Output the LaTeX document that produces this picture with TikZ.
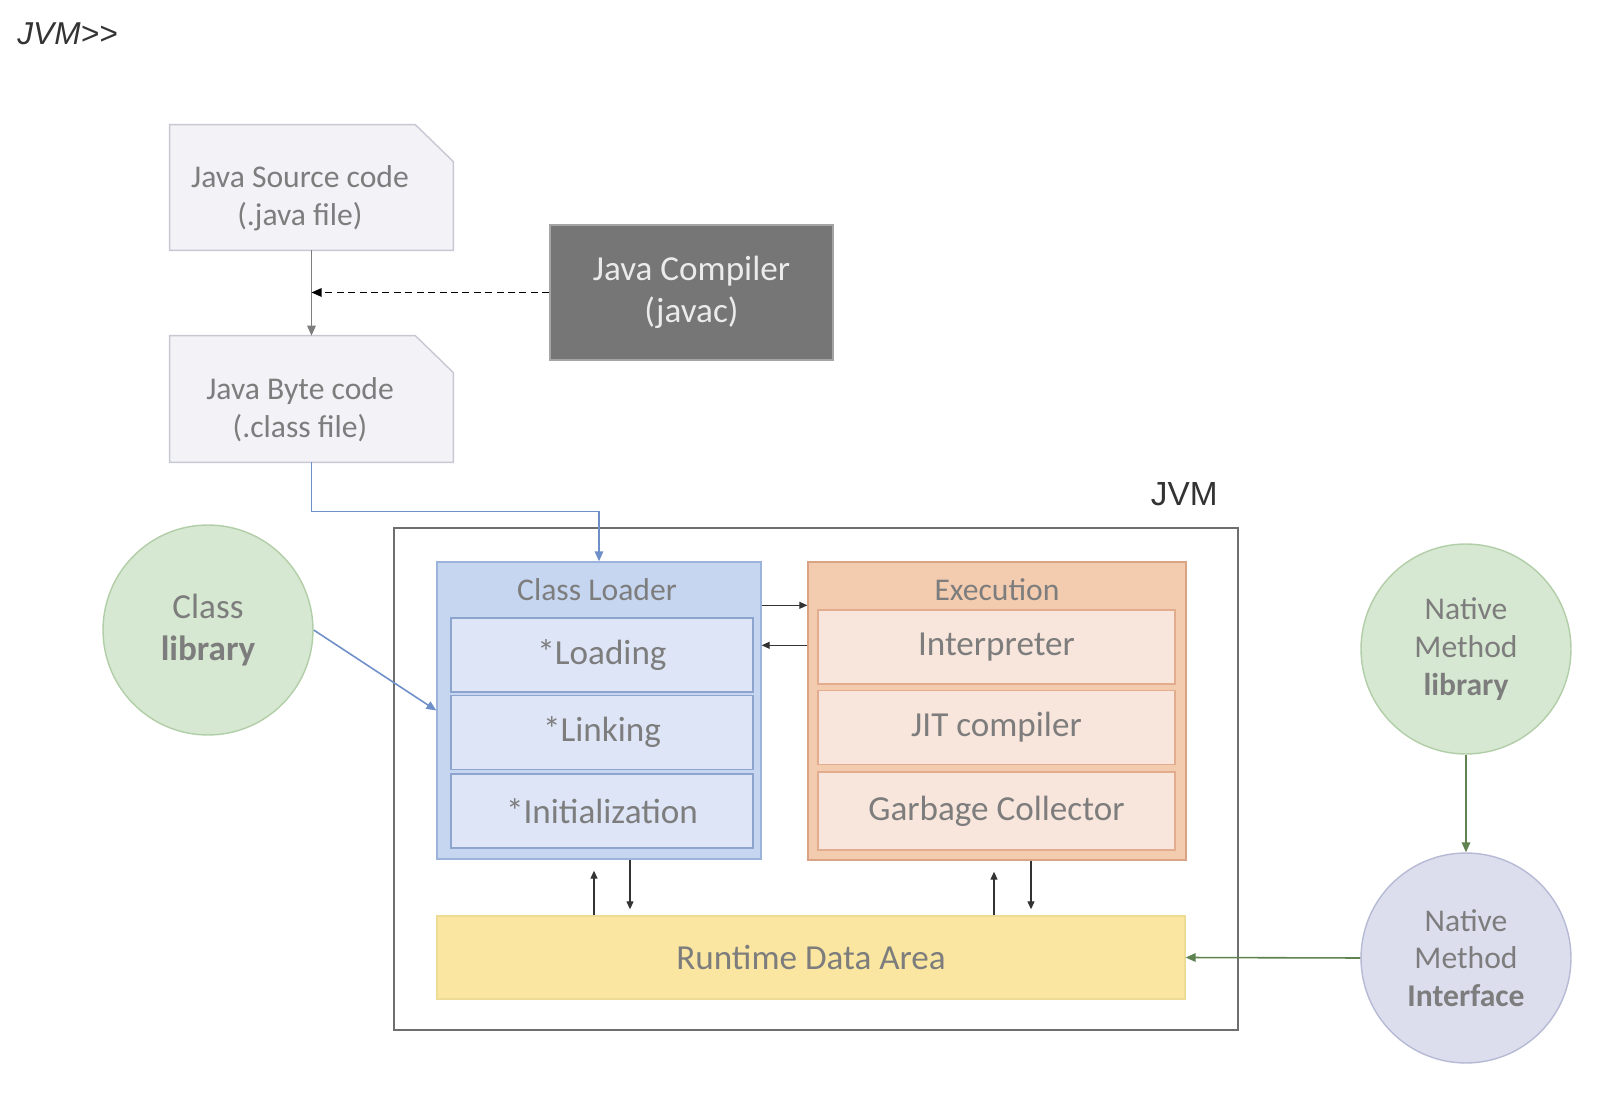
\documentclass[tikz,border=0pt]{standalone}
\usepackage{fontspec}
\setmainfont{Carlito}
\newfontfamily\arialfont{Liberation Sans}
\usetikzlibrary{arrows.meta,calc,positioning,backgrounds}

\definecolor{docfill}{RGB}{242,242,247}
\definecolor{docline}{RGB}{200,200,212}
\definecolor{txtgray}{RGB}{125,125,125}
\definecolor{compfill}{RGB}{118,118,118}
\definecolor{compline}{RGB}{165,165,165}
\definecolor{clfill}{RGB}{198,214,240}
\definecolor{clline}{RGB}{156,180,220}
\definecolor{clinfill}{RGB}{221,229,247}
\definecolor{clinline}{RGB}{140,164,206}
\definecolor{exfill}{RGB}{243,204,176}
\definecolor{exline}{RGB}{218,164,132}
\definecolor{exinfill}{RGB}{248,229,219}
\definecolor{exinline}{RGB}{226,172,142}
\definecolor{rdafill}{RGB}{250,230,160}
\definecolor{rdaline}{RGB}{236,220,150}
\definecolor{libfill}{RGB}{214,232,209}
\definecolor{libline}{RGB}{178,206,168}
\definecolor{nmifill}{RGB}{220,222,238}
\definecolor{nmiline}{RGB}{182,186,212}
\definecolor{flowblue}{RGB}{110,143,200}
\definecolor{flowgreen}{RGB}{94,130,80}
\definecolor{framegray}{RGB}{110,110,110}

% sheet with a cut top right corner, drawn behind a node
\newcommand{\foldsheet}[1]{%
  \filldraw[fill=docfill,draw=docline,line width=0.8pt]
    (#1.south west) -- (#1.north west) -- ([xshift=-0.76cm]#1.north east)
    -- ([yshift=-0.74cm]#1.north east) -- (#1.south east) -- cycle;}

\begin{document}
\begin{tikzpicture}[
  x=0.02cm, y=-0.02cm,
  >={Triangle[length=2mm,width=1.7mm]},
  doc/.style={minimum width=5.66cm,inner sep=0pt},
  doctext/.style={inner sep=0pt,align=center,xshift=-0.23cm,yshift=-0.22cm,
    text=txtgray,font=\fontsize{18}{21.5}\selectfont},
  title/.style={text=txtgray,inner sep=0pt,font=\fontsize{18}{22}\selectfont},
  stage/.style={draw,line width=0.8pt,minimum height=1.48cm,inner sep=0pt,
    text=txtgray,font=\fontsize{20}{24}\selectfont},
  outer/.style={draw,line width=0.8pt,inner sep=0pt},
  lib/.style={circle,draw,line width=0.8pt,minimum size=4.2cm,inner sep=0pt,
    align=center,text=txtgray},
  flow/.style={->,draw=black!80,line width=0.7pt,
    >={Triangle[length=1.6mm,width=1.4mm]}},
  blueflow/.style={->,draw=flowblue,line width=0.9pt},
  greenflow/.style={->,draw=flowgreen,line width=0.9pt}
]
  \useasboundingbox (0,0) rectangle (1610,1104);

  \node[anchor=base west,inner sep=0pt,text=black!80,
    font=\arialfont\itshape\fontsize{18}{22}\selectfont] (head) at (17,45) {JVM>>};

  % source and byte code
  \node[doc,minimum height=2.5cm,
    label={[doctext]center:{Java Source code\\(.java file)}}] (src) at (311.5,187.5) {};
  \node[doc,minimum height=2.52cm,
    label={[doctext]center:{Java Byte code\\(.class file)}}] (byte) at (311.5,399) {};
  \begin{pgfonlayer}{background}
    \foldsheet{src}
    \foldsheet{byte}
  \end{pgfonlayer}

  \node[fill=compfill,draw=compline,line width=0.8pt,minimum width=5.66cm,
    minimum height=2.7cm,inner sep=0pt,align=center,text=white!92!black,
    font=\fontsize{20}{24}\selectfont] (javac) at (691.5,292.5)
    {Java Compiler\\(javac)};

  % JVM frame
  \node[draw=framegray,line width=1.1pt,minimum width=16.88cm,
    minimum height=10.04cm,inner sep=0pt] (jvm) at (816,779) {};
  \node[anchor=base east,inner sep=0pt,text=black!80,
    font=\arialfont\fontsize{19}{23}\selectfont] (jvmlabel) at (1218,506) {JVM};

  % class loader
  \node[outer,fill=clfill,draw=clline,minimum width=6.48cm,
    minimum height=5.94cm] (cl) at (599,710.5) {};
  \node[title] (cltitle) at (597,590) {Class Loader};
  \node[stage,fill=clinfill,draw=clinline,minimum width=6.04cm] (load)
    at (602,655) {*Loading};
  \node[stage,fill=clinfill,draw=clinline,minimum width=6.04cm] (link)
    at (602,732.5) {*Linking};
  \node[stage,fill=clinfill,draw=clinline,minimum width=6.04cm] (init)
    at (602,811) {*Initialization};

  % execution
  \node[outer,fill=exfill,draw=exline,minimum width=7.56cm,
    minimum height=5.96cm] (exe) at (997,711) {};
  \node[title] (extitle) at (997,590) {Execution};
  \node[stage,fill=exinfill,draw=exinline,minimum width=7.14cm] (interp)
    at (996.5,647) {Interpreter};
  \node[stage,fill=exinfill,draw=exinline,minimum width=7.14cm] (jit)
    at (996.5,727.5) {JIT compiler};
  \node[stage,fill=exinfill,draw=exinline,minimum width=7.14cm,
    minimum height=1.56cm] (gc) at (996.5,811) {Garbage Collector};

  % runtime data area
  \node[stage,fill=rdafill,draw=rdaline,minimum width=14.96cm,
    minimum height=1.66cm] (rda) at (811,957.5) {Runtime Data Area};

  % libraries
  \node[lib,fill=libfill,draw=libline,font=\fontsize{20}{24}\selectfont]
    (clib) at (208,630) {Class\\\textbf{library}};
  \node[lib,fill=libfill,draw=libline,font=\fontsize{18}{21.5}\selectfont]
    (nml) at (1466,649) {Native\\Method\\\textbf{library}};
  \node[lib,fill=nmifill,draw=nmiline,font=\fontsize{18}{21.5}\selectfont]
    (nmi) at (1466,958) {Native\\Method\\\textbf{Interface}};

  % connectors
  \draw[->,draw=txtgray,line width=0.8pt] (src.south) -- (byte.north);
  \draw[->,draw=black,line width=0.7pt,dash pattern=on 4pt off 2.5pt]
    (javac.west) -- (javac.west -| src.south);
  \draw[blueflow] (byte.south) -- ++(0,49) -| (cl.north);
  \draw[blueflow] (clib.east) -- (cl.west);

  \draw[flow] ([yshift=-0.88cm]cl.north east) -- ([yshift=-0.88cm]exe.north west);
  \draw[flow] ([yshift=-1.68cm]exe.north west) -- ([yshift=-1.68cm]cl.north east);

  \coordinate (clup) at ([xshift=-0.1cm]cl.south);
  \coordinate (cldn) at ([xshift=0.62cm]cl.south);
  \coordinate (exup) at ([xshift=-0.06cm]exe.south);
  \coordinate (exdn) at ([xshift=0.68cm]exe.south);
  \draw[flow,shorten >=0.22cm] (clup |- rda.north) -- (clup);
  \draw[flow,shorten >=0.12cm] (cldn) -- (cldn |- rda.north);
  \draw[flow,shorten >=0.22cm] (exup |- rda.north) -- (exup);
  \draw[flow,shorten >=0.12cm] (exdn) -- (exdn |- rda.north);

  \draw[greenflow] (nml) -- (nmi);
  \draw[greenflow] (nmi.west) -- (rda.east);
\end{tikzpicture}
\end{document}
